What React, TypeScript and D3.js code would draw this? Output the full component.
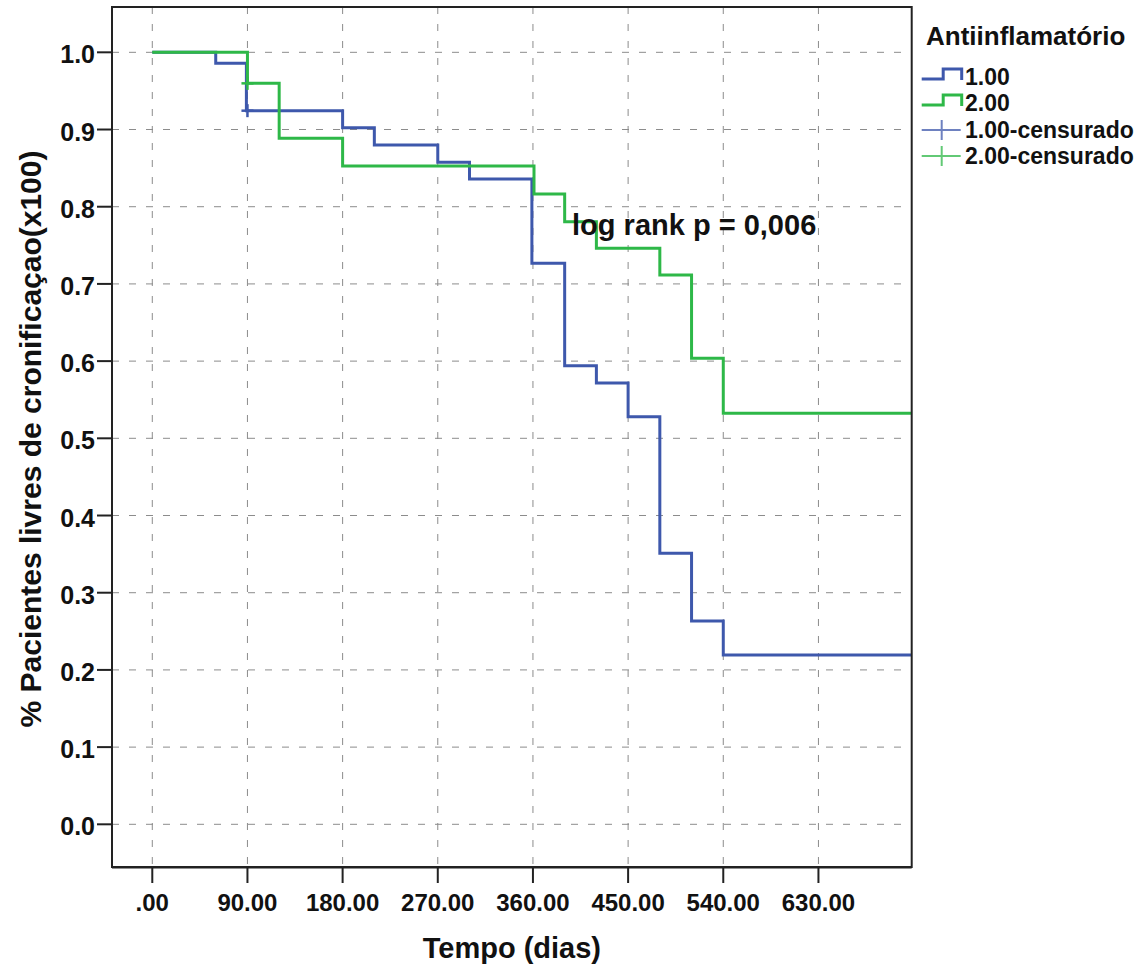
import React from "react";
import * as d3 from "d3";

const xTicks = [0, 90, 180, 270, 360, 450, 540, 630];
const xTickLabels = [".00", "90.00", "180.00", "270.00", "360.00", "450.00", "540.00", "630.00"];
const yTicks = [0, 0.1, 0.2, 0.3, 0.4, 0.5, 0.6, 0.7, 0.8, 0.9, 1.0];
const yTickLabels = ["0.0", "0.1", "0.2", "0.3", "0.4", "0.5", "0.6", "0.7", "0.8", "0.9", "1.0"];

const endTime = 718.2;

// group 1.00 (blue)
const blueTimes = [0, 60, 89, 180, 210, 270, 300, 359, 390, 420, 450, 480, 510, 540];
const blueSurv = [1.0, 0.9858, 0.9244, 0.9023, 0.8799, 0.8575, 0.8359, 0.7267, 0.594, 0.5716, 0.528, 0.351, 0.2633, 0.2193];
const blueCensorTimes = [90];
const blueCensorSurv = [0.9244];

// group 2.00 (green)
const greenTimes = [0, 90, 120, 180, 361, 390, 420, 480, 510, 540];
const greenSurv = [1.0, 0.9598, 0.8886, 0.8527, 0.8165, 0.7806, 0.7461, 0.7115, 0.6036, 0.5324];
const greenCensorTimes = [90];
const greenCensorSurv = [0.9598];

const legendTitle = "Antiinflamatório";
const legendLabels = ["1.00", "2.00", "1.00-censurado", "2.00-censurado"];

const BLUE = "#3e58ac";
const GREEN = "#2eb848";
const FONT = "'Liberation Sans', Arial, Helvetica, sans-serif";

export default function App() {
  const left = 112, right = 911.7, top = 7, bottom = 867;
  const x = d3.scaleLinear().domain([-38.1, endTime]).range([left, right]);
  const y = d3.scaleLinear().domain([-0.0553, 1.0587]).range([bottom, top]);

  const line = d3
    .line<[number, number]>()
    .x((d) => x(d[0]))
    .y((d) => y(d[1]))
    .curve(d3.curveStepAfter);

  const bluePts: [number, number][] = blueTimes.map((t, i) => [t, blueSurv[i]]);
  bluePts.push([endTime, blueSurv[blueSurv.length - 1]]);
  const greenPts: [number, number][] = greenTimes.map((t, i) => [t, greenSurv[i]]);
  greenPts.push([endTime, greenSurv[greenSurv.length - 1]]);

  const cross = (cx: number, cy: number, color: string, key: string) => (
    <g key={key} stroke={color} strokeWidth={2.5}>
      <line x1={cx - 6} x2={cx + 6} y1={cy} y2={cy} />
      <line x1={cx} x2={cx} y1={cy - 6.5} y2={cy + 6.5} />
    </g>
  );

  const legX = 921.7;
  const legY = [77, 103, 130, 156];

  return (
    <svg
      width={1139}
      height={966}
      style={{ position: "absolute", left: 0, top: 0, background: "#fff" }}
      fontFamily={FONT}
    >
      <rect x={0} y={0} width={1139} height={966} fill="#fff" />
      {/* grid */}
      <g stroke="#8c8c8c" strokeWidth={1} strokeDasharray="7,10">
        {xTicks.map((t) => (
          <line key={"gx" + t} x1={x(t)} x2={x(t)} y1={top} y2={bottom} />
        ))}
        {yTicks.map((t) => (
          <line key={"gy" + t} x1={left} x2={right} y1={y(t)} y2={y(t)} />
        ))}
      </g>

      {/* curves */}
      <path d={line(bluePts) || ""} fill="none" stroke={BLUE} strokeWidth={3} />
      <path d={line(greenPts) || ""} fill="none" stroke={GREEN} strokeWidth={3} />
      {blueCensorTimes.map((t, i) => cross(x(t), y(blueCensorSurv[i]), BLUE, "bc" + i))}
      {greenCensorTimes.map((t, i) => cross(x(t), y(greenCensorSurv[i]), GREEN, "gc" + i))}

      {/* frame */}
      <rect x={left} y={top} width={right - left} height={bottom - top} fill="none" stroke="#222" strokeWidth={2} />
      <line x1={left} x2={right} y1={bottom + 0.5} y2={bottom + 0.5} stroke="#222" strokeWidth={2} />

      {/* y ticks */}
      <g>
        {yTicks.map((t, i) => (
          <g key={"yt" + t}>
            <line x1={97} x2={left} y1={y(t)} y2={y(t)} stroke="#222" strokeWidth={2} />
            <text x={95} y={y(t) + 11} textAnchor="end" fontSize={25} fontWeight="bold" fill="#111">
              {yTickLabels[i]}
            </text>
          </g>
        ))}
      </g>

      {/* x ticks */}
      <g>
        {xTicks.map((t, i) => (
          <g key={"xt" + t}>
            <line x1={x(t)} x2={x(t)} y1={bottom} y2={bottom + 16} stroke="#222" strokeWidth={2} />
            <text x={x(t)} y={911} textAnchor="middle" fontSize={24} fontWeight="bold" fill="#111">
              {xTickLabels[i]}
            </text>
          </g>
        ))}
      </g>

      {/* axis titles */}
      <text x={(left + right) / 2} y={958} textAnchor="middle" fontSize={29} fontWeight="bold" fill="#111">
        Tempo (dias)
      </text>
      <text
        transform={`translate(41, ${(top + bottom) / 2 + 2}) rotate(-90)`}
        textAnchor="middle"
        fontSize={30}
        fontWeight="bold"
        fill="#111"
      >
        % Pacientes livres de cronificaçao(x100)
      </text>

      {/* annotation */}
      <text x={x(397)} y={y(0.7635)} fontSize={29} fontWeight="bold" fill="#111">
        log rank p = 0,006
      </text>

      {/* legend */}
      <text x={926} y={45} fontSize={26} fontWeight="bold" fill="#111">
        {legendTitle}
      </text>
      {[BLUE, GREEN].map((c, i) => (
        <path
          key={"ls" + i}
          d={`M${legX},${legY[i] + 2} H${legX + 21.5} V${legY[i] - 8} H${legX + 40} V${legY[i] + 3}`}
          fill="none"
          stroke={c}
          strokeWidth={3}
        />
      ))}
      {[BLUE, GREEN].map((c, i) => (
        <g key={"lc" + i} stroke={c} strokeWidth={2} opacity={0.75}>
          <line x1={legX} x2={legX + 39} y1={legY[i + 2]} y2={legY[i + 2]} />
          <line x1={legX + 20} x2={legX + 20} y1={legY[i + 2] - 10} y2={legY[i + 2] + 10} />
        </g>
      ))}
      {legendLabels.map((l, i) => (
        <text key={"ll" + i} x={965} y={legY[i] + 8} fontSize={23} fontWeight="bold" fill="#111">
          {l}
        </text>
      ))}
    </svg>
  );
}
